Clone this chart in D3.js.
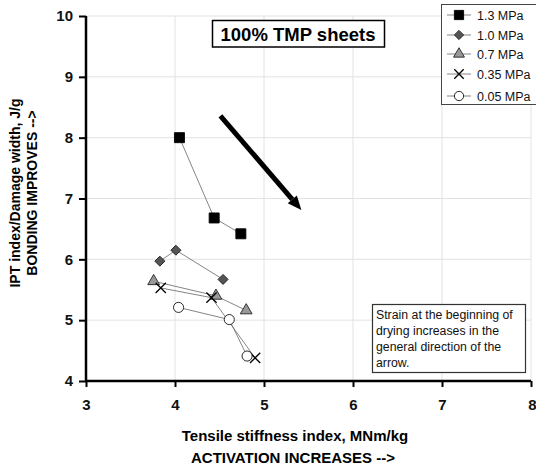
<!DOCTYPE html>
<html><head><meta charset="utf-8">
<script src="https://cdn.jsdelivr.net/npm/d3@7"></script>
<style>body{margin:0;background:#fff}svg{display:block;font-family:"Liberation Sans",Arial,sans-serif}</style>
</head><body><svg id="c" width="536" height="468"></svg>
<script>
const seriesNames = ["1.3 MPa","1.0 MPa","0.7 MPa","0.35 MPa","0.05 MPa"];
const s13x = [4.05, 4.44, 4.74], s13y = [8.00, 6.68, 6.42];
const s10x = [3.83, 4.01, 4.54], s10y = [5.97, 6.15, 5.67];
const s07x = [3.76, 4.46, 4.80], s07y = [5.64, 5.40, 5.16];
const s035x = [3.84, 4.41, 4.90], s035y = [5.53, 5.37, 4.38];
const s005x = [4.04, 4.61, 4.81], s005y = [5.21, 5.01, 4.41];
const xTicks = [3,4,5,6,7,8];
const yTicks = [4,5,6,7,8,9,10];
const arrowStart = [4.51, 8.36], arrowEnd = [5.42, 6.81];
const noteLines = ["Strain at the beginning of","drying increases in the","general direction of the","arrow."];

const svg = d3.select("#c");
const x = d3.scaleLinear().domain([3,8]).range([86,531]);
const y = d3.scaleLinear().domain([4,10]).range([381,16]);

// grid
svg.append("g").selectAll("line").data(yTicks.filter(d=>d>4)).join("line")
  .attr("x1",86).attr("x2",531).attr("y1",d=>y(d)).attr("y2",d=>y(d))
  .attr("stroke","#e2e2e2").attr("stroke-width",1);
svg.append("g").selectAll("line").data(xTicks.filter(d=>d>3)).join("line")
  .attr("y1",16).attr("y2",381).attr("x1",d=>x(d)).attr("x2",d=>x(d))
  .attr("stroke","#e2e2e2").attr("stroke-width",1);

// axes
const xa = svg.append("g").attr("transform","translate(0,381)")
  .call(d3.axisBottom(x).tickValues(xTicks).tickFormat(d3.format("d")).tickSize(6).tickPadding(12));
const ya = svg.append("g").attr("transform","translate(86,0)")
  .call(d3.axisLeft(y).tickValues(yTicks).tickFormat(d3.format("d")).tickSize(7).tickPadding(6));
[xa,ya].forEach(a=>{
  a.select(".domain").attr("stroke","#000").attr("stroke-width",2.5);
  a.selectAll(".tick line").attr("stroke","#000").attr("stroke-width",2);
  a.selectAll(".tick text").attr("font-size",15).attr("font-weight","bold")
    .attr("fill","#111").attr("font-family","'Liberation Sans',Arial,sans-serif");
});
xa.select(".domain").attr("d","M86,0H531");
ya.select(".domain").attr("d","M0,16V381");
xa.selectAll(".tick").filter(d=>d===8).select("text").attr("text-anchor","end").attr("dx",5);

// axis titles
svg.append("text").attr("x",295).attr("y",441).attr("text-anchor","middle")
  .attr("font-size",15).attr("font-weight","bold").text("Tensile stiffness index, MNm/kg");
svg.append("text").attr("x",293).attr("y",463).attr("text-anchor","middle")
  .attr("font-size",15).attr("font-weight","bold").text("ACTIVATION INCREASES -->");
svg.append("text").attr("transform","translate(20,193) rotate(-90)").attr("text-anchor","middle")
  .attr("font-size",14).attr("font-weight","bold").text("IPT index/Damage width, J/g");
svg.append("text").attr("transform","translate(37,193) rotate(-90)").attr("text-anchor","middle")
  .attr("font-size",14).attr("font-weight","bold").text("BONDING IMPROVES -->");

// series
const series = [
  {xs:s13x, ys:s13y, sym:d3.symbolSquare, size:100, rot:0, fill:"#000", stroke:"#000"},
  {xs:s10x, ys:s10y, sym:d3.symbolSquare, size:50, rot:45, fill:"#555", stroke:"#222"},
  {xs:s07x, ys:s07y, sym:d3.symbolTriangle, size:60, rot:0, fill:"#999", stroke:"#222"},
  {xs:s035x, ys:s035y, sym:d3.symbolTimes, size:70, rot:0, fill:"none", stroke:"#000"},
  {xs:s005x, ys:s005y, sym:d3.symbolCircle, size:80, rot:0, fill:"#fff", stroke:"#111"}
];
const line = d3.line().x(d=>x(d[0])).y(d=>y(d[1]));
series.forEach(s=>{
  const pts = s.xs.map((v,i)=>[v,s.ys[i]]);
  svg.append("path").attr("d",line(pts)).attr("fill","none").attr("stroke","#777").attr("stroke-width",0.9);
});
series.forEach(s=>{
  const pts = s.xs.map((v,i)=>[v,s.ys[i]]);
  svg.append("g").selectAll("path").data(pts).join("path")
    .attr("transform",d=>`translate(${x(d[0])},${y(d[1])}) rotate(${s.rot})`)
    .attr("d",d3.symbol(s.sym,s.size)).attr("fill",s.fill).attr("stroke",s.stroke)
    .attr("stroke-width", s.sym===d3.symbolTimes?1.3:0.9);
});

// arrow
const ax1=x(arrowStart[0]), ay1=y(arrowStart[1]), ax2=x(arrowEnd[0]), ay2=y(arrowEnd[1]);
const ang = Math.atan2(ay2-ay1, ax2-ax1);
const hl = 14, hw = 6;
const bx = ax2 - hl*Math.cos(ang), by = ay2 - hl*Math.sin(ang);
svg.append("line").attr("x1",ax1).attr("y1",ay1).attr("x2",bx).attr("y2",by)
  .attr("stroke","#000").attr("stroke-width",5);
svg.append("path").attr("d",`M${ax2},${ay2}L${bx+hw*Math.sin(ang)},${by-hw*Math.cos(ang)}L${bx-hw*Math.sin(ang)},${by+hw*Math.cos(ang)}Z`)
  .attr("fill","#000");

// title box
svg.append("rect").attr("x",212.5).attr("y",20.5).attr("width",172).attr("height",26.5)
  .attr("fill","#fff").attr("stroke","#000").attr("stroke-width",1.5);
svg.append("text").attr("x",298).attr("y",40.5).attr("text-anchor","middle")
  .attr("font-size",18.5).attr("font-weight","bold").text("100% TMP sheets");

// legend
const lg = svg.append("g");
lg.append("rect").attr("x",441.5).attr("y",4.5).attr("width",100).attr("height",100)
  .attr("fill","#fff").attr("stroke","#444").attr("stroke-width",1);
const ly = [15,35,54,74,96];
series.forEach((s,i)=>{
  lg.append("line").attr("x1",447).attr("x2",471).attr("y1",ly[i]).attr("y2",ly[i]).attr("stroke","#777").attr("stroke-width",0.9);
  lg.append("path").attr("transform",`translate(459,${ly[i]}) rotate(${s.rot})`)
    .attr("d",d3.symbol(s.sym,s.size*0.85)).attr("fill",s.fill).attr("stroke",s.stroke)
    .attr("stroke-width", s.sym===d3.symbolTimes?1.3:0.9);
  lg.append("text").attr("x",477).attr("y",ly[i]+4.5).attr("font-size",12.5).attr("fill","#111").text(seriesNames[i]);
});

// note box
svg.append("rect").attr("x",372.5).attr("y",304.5).attr("width",153).attr("height",68)
  .attr("fill","#fff").attr("stroke","#333").attr("stroke-width",1.2);
noteLines.forEach((t,i)=>{
  svg.append("text").attr("x",376).attr("y",318.5+i*16.3).attr("font-size",12.3).attr("fill","#111").text(t);
});
</script></body></html>
